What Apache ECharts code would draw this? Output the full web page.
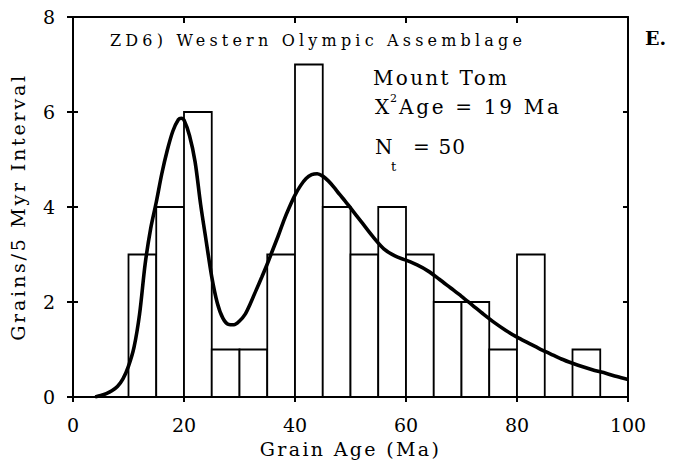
<!DOCTYPE html>
<html>
<head>
<meta charset="utf-8">
<script src="https://cdn.jsdelivr.net/npm/echarts@6/dist/echarts.min.js"></script>
<style>
  html, body { margin: 0; padding: 0; background: #fff; }
  #chart { width: 673px; height: 471px; }
</style>
</head>
<body>
<div id="chart"></div>
<script>
// ---- data ----
const binLeft  = [10, 15, 20, 25, 30, 35, 40, 45, 50, 55, 60, 65, 70, 75, 80, 85, 90];
const binRight = [15, 20, 25, 30, 35, 40, 45, 50, 55, 60, 65, 70, 75, 80, 85, 90, 95];
const binCount = [3, 4, 6, 1, 1, 3, 7, 4, 3, 4, 3, 2, 2, 1, 3, 0, 1];

const curveAge = [4, 5, 6, 7, 8, 9, 10, 11, 12, 13, 14, 15, 16, 17, 18, 19, 19.5, 20, 21, 22, 23, 24, 25, 26, 27, 28, 29, 30,
  31, 32, 33, 34, 35, 36, 37, 38, 39, 40, 41, 42, 43, 44, 45, 46, 47, 48, 49, 50, 52, 54, 56, 58, 60, 62, 64, 66, 68, 70,
  72, 74, 76, 78, 80, 82, 84, 86, 88, 90, 92, 94, 96, 98, 100];
const curveDensity = [0.0, 0.03, 0.07, 0.13, 0.22, 0.38, 0.65, 1.05, 1.75, 2.8, 3.55, 4.1, 4.7, 5.2, 5.6, 5.84, 5.87, 5.83, 5.5, 4.95, 4.05, 3.28, 2.53, 1.98, 1.66, 1.53, 1.52, 1.6,
  1.74, 1.98, 2.25, 2.52, 2.8, 3.1, 3.4, 3.72, 4.0, 4.25, 4.45, 4.6, 4.68, 4.7, 4.65, 4.55, 4.42, 4.27, 4.13, 3.98, 3.68, 3.38, 3.12, 2.97, 2.88, 2.78, 2.65, 2.48, 2.3, 2.12,
  1.93, 1.74, 1.56, 1.4, 1.26, 1.14, 1.02, 0.91, 0.8, 0.71, 0.63, 0.56, 0.5, 0.43, 0.37];

const xTicks = [0, 20, 40, 60, 80, 100];
const yTicks = [0, 2, 4, 6, 8];

const panelTitle = 'ZD6) Western Olympic Assemblage';
const siteName = 'Mount Tom';
const chiAgeText = 'Age = 19 Ma';
const ntText = '= 50';
const panelLetter = 'E.';
const xName = 'Grain Age (Ma)';
const yName = 'Grains/5 Myr Interval';

// ---- layout/style ----
const FONT = 'DejaVu Serif';
const targetWidths = {};
targetWidths[panelTitle] = 412;
targetWidths[siteName] = 134;
targetWidths[chiAgeText] = 160;
targetWidths[ntText] = 52;
targetWidths[xName] = 179;
targetWidths[yName] = 265;

const chart = echarts.init(document.getElementById('chart'), null, { renderer: 'svg' });

const histData = binLeft.map((l, i) => [l, binRight[i], binCount[i]]);
const curveData = curveAge.map((a, i) => [a, curveDensity[i]]);

const txt = (text, x, y, size, extra) => Object.assign({
  type: 'text', z: 10,
  style: Object.assign({ text: text, x: x, y: y, fill: '#000', font: size + 'px "' + FONT + '"',
    align: 'left', verticalAlign: 'top' }, extra || {})
});

const option = {
  animation: false,
  backgroundColor: '#fff',
  grid: { left: 73, right: 45, top: 17, bottom: 74 },
  xAxis: [
    {
      type: 'value', min: xTicks[0], max: xTicks[xTicks.length - 1], interval: 20, position: 'bottom',
      axisLine: { show: true, onZero: false, lineStyle: { color: '#000', width: 2 } },
      axisTick: { show: true, inside: false, length: 5, lineStyle: { color: '#000', width: 2 } },
      axisLabel: { color: '#000', fontFamily: FONT, fontSize: 19, margin: 18 },
      splitLine: { show: false },
      name: xName, nameLocation: 'middle', nameGap: 42,
      nameTextStyle: { color: '#000', fontFamily: FONT, fontSize: 19 }
    },
    {
      type: 'value', min: 0, max: 100, interval: 20, position: 'top',
      axisLine: { show: true, onZero: false, lineStyle: { color: '#000', width: 2 } },
      axisTick: { show: true, inside: true, length: 6, lineStyle: { color: '#000', width: 2 } },
      axisLabel: { show: false }, splitLine: { show: false }
    }
  ],
  yAxis: [
    {
      type: 'value', min: yTicks[0], max: yTicks[yTicks.length - 1], interval: 2, position: 'left',
      axisLine: { show: true, onZero: false, lineStyle: { color: '#000', width: 2 } },
      axisTick: { show: true, inside: false, length: 6, lineStyle: { color: '#000', width: 2 } },
      axisLabel: { color: '#000', fontFamily: FONT, fontSize: 19, margin: 18 },
      splitLine: { show: false },
      name: yName, nameLocation: 'middle', nameGap: 46,
      nameTextStyle: { color: '#000', fontFamily: FONT, fontSize: 19 }
    },
    {
      type: 'value', min: 0, max: 8, interval: 2, position: 'right',
      axisLine: { show: true, onZero: false, lineStyle: { color: '#000', width: 2 } },
      axisTick: { show: true, inside: true, length: 5, lineStyle: { color: '#000', width: 2 } },
      axisLabel: { show: false }, splitLine: { show: false }
    },
    {
      type: 'value', min: 0, max: 8, interval: 2, position: 'left', offset: 0,
      axisLine: { show: false },
      axisTick: { show: true, inside: true, length: 5, lineStyle: { color: '#000', width: 2 } },
      axisLabel: { show: false }, splitLine: { show: false }
    }
  ],
  series: [
    {
      type: 'custom', xAxisIndex: 0, yAxisIndex: 0, z: 2,
      data: histData,
      renderItem: function (params, api) {
        const h = api.value(2);
        if (h <= 0) return null;
        const p0 = api.coord([api.value(0), h]);
        const p1 = api.coord([api.value(1), 0]);
        return {
          type: 'rect',
          shape: { x: p0[0], y: p0[1], width: p1[0] - p0[0], height: p1[1] - p0[1] },
          style: { fill: '#fff', stroke: '#000', lineWidth: 1.8 }
        };
      }
    },
    {
      type: 'line', xAxisIndex: 0, yAxisIndex: 0, z: 3,
      data: curveData, showSymbol: false, smooth: 0.3,
      lineStyle: { color: '#000', width: 3.6 }
    }
  ],
  graphic: [
    txt(panelTitle, 110, 32.5, 16),
    txt(siteName, 373, 67.5, 20),
    txt('X', 375, 97, 20),
    txt('2', 390, 92.5, 11),
    txt(chiAgeText, 399, 97, 20),
    txt('N', 375, 137, 20),
    txt('t', 391, 160, 13),
    txt(ntText, 413, 137, 20),
    txt(panelLetter, 645, 28.5, 19, { font: 'bold 19px "' + FONT + '"' })
  ]
};

chart.setOption(option);

function applySpacing() {
  const texts = document.querySelectorAll('#chart svg text');
  texts.forEach(t => {
    const s = t.textContent;
    const target = targetWidths[s];
    if (!target || s.length < 2) return;
    t.style.letterSpacing = '0px';
    const natural = t.getComputedTextLength();
    const sp = (target - natural) / (s.length - 1);
    t.style.letterSpacing = sp.toFixed(2) + 'px';
  });
}
applySpacing();
chart.on('finished', applySpacing);
</script>
</body>
</html>
